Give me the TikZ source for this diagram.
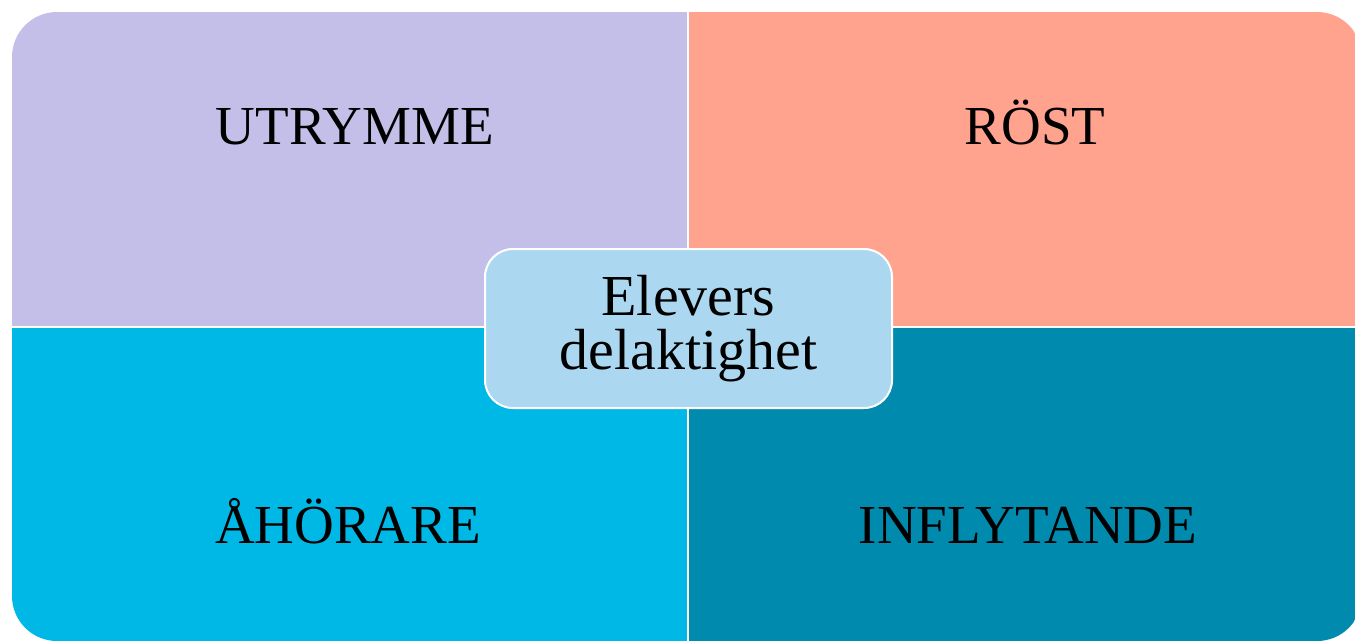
\documentclass[tikz,border=0pt]{standalone}
\usepackage{fontspec}
\setmainfont{Liberation Serif}
\definecolor{lav}{HTML}{C4BFE8}
\definecolor{salm}{HTML}{FFA38F}
\definecolor{cyanq}{HTML}{00B8E5}
\definecolor{tealq}{HTML}{008AAE}
\definecolor{centerc}{HTML}{ABD8F0}
\tikzset{
  qlabel/.style={anchor=base, inner sep=0pt, font=\fontsize{55}{55}\selectfont, text=black},
  hub/.style={draw=white, line width=2pt, fill=centerc, rounded corners=28pt,
    minimum width=407pt, minimum height=159pt, inner sep=0pt, align=center,
    font=\fontsize{58}{54}\selectfont, text=black},
  divider/.style={draw=white, line width=2pt}
}
\begin{document}
\begin{tikzpicture}[x=1pt,y=-1pt]
\useasboundingbox (0,0) rectangle (1355,641);
\begin{scope}
  \clip (0,0) rectangle (1355,641);
  \clip[rounded corners=45pt] (12,12) rectangle (1362,641);
  \fill[lav] (12,12) rectangle (688,327);
  \fill[salm] (688,12) rectangle (1362,327);
  \fill[cyanq] (12,327) rectangle (688,641);
  \fill[tealq] (688,327) rectangle (1362,641);
  \coordinate (vt) at (688,0);
  \coordinate (vb) at (688,641);
  \coordinate (hl) at (0,327);
  \coordinate (hr) at (1362,327);
  \draw[divider] (vt) -- (vb);
  \draw[divider] (hl) -- (hr);
\end{scope}
\node[qlabel] (utr) at (355,144) {UTRYMME};
\node[qlabel] (rost) at (1035,144) {RÖST};
\node[qlabel] (aho) at (348,543) {ÅHÖRARE};
\node[qlabel] (inf) at (1028,543) {INFLYTANDE};
\node[hub] (hubn) at (688.5,328.5) {Elevers\\delaktighet};
\end{tikzpicture}
\end{document}
